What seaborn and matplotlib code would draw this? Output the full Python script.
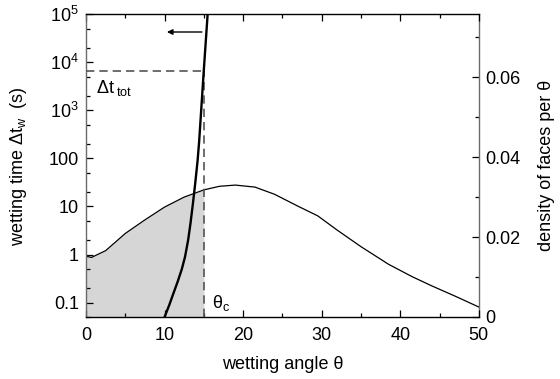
import numpy as np
import pandas as pd
import matplotlib
matplotlib.use("Agg")
import matplotlib.pyplot as plt
import matplotlib.ticker as mticker
import seaborn as sns

# ---- data ----
theta_density = [0, 0.7, 2.5, 5, 7.5, 10, 12.5, 15, 17, 19, 21.5, 24, 27, 29.5, 32,
                 35, 38.5, 41.5, 44, 47, 50]
density = [0.0152, 0.0149, 0.0166, 0.0209, 0.0243, 0.0275, 0.0300, 0.0318, 0.0327,
           0.0330, 0.0325, 0.0307, 0.0277, 0.0253, 0.0217, 0.0176, 0.0132, 0.0101,
           0.0078, 0.0052, 0.0025]

theta_wet = [10.0, 10.6, 11.1, 11.7, 12.2, 12.6, 13.0, 13.3, 13.6, 13.9, 14.2, 14.4,
             14.6, 14.8, 15.0, 15.25, 15.5]
t_wet = [0.050, 0.089, 0.151, 0.282, 0.50, 0.89, 2.0, 4.47, 11.2, 30.2, 89, 224,
         708, 2240, 7080, 2.82e4, 1.12e5]

theta_c = 15.0
dt_tot = 6500

x_ticks = [0, 10, 20, 30, 40, 50]
y_left_ticks = [0.1, 1, 10, 100, 1e3, 1e4, 1e5]
y_left_labels = ["0.1", "1", "10", "100", "$10^3$", "$10^4$", "$10^5$"]
y_right_ticks = [0, 0.02, 0.04, 0.06]
y_right_labels = ["0", "0.02", "0.04", "0.06"]

sns.set_style("ticks")
plt.rcParams["font.family"] = ["Liberation Sans", "DejaVu Sans"]
plt.rcParams["mathtext.fontset"] = "custom"
plt.rcParams["mathtext.rm"] = "Liberation Sans"
plt.rcParams["mathtext.it"] = "Liberation Sans:italic"
plt.rcParams["mathtext.bf"] = "Liberation Sans:bold"
for key in ["text.color", "axes.labelcolor", "xtick.color", "ytick.color"]:
    plt.rcParams[key] = "black"

fig = plt.figure(figsize=(5.6, 3.79), dpi=100)
ax1 = fig.add_axes([0.1536, 0.1636, 0.855 - 0.1536, 0.962 - 0.1636])
ax2 = ax1.twinx()
ax1.set_zorder(2)
ax2.set_zorder(1)
ax1.patch.set_visible(False)

df_d = pd.DataFrame({"theta": theta_density, "density": density})
df_w = pd.DataFrame({"theta": theta_wet, "t": t_wet})

# shaded area under density up to theta_c
sub = df_d[df_d["theta"] <= theta_c]
ax2.fill_between(sub["theta"], 0, sub["density"], color="#d6d6d6", lw=0, zorder=1)
sns.lineplot(data=df_d, x="theta", y="density", ax=ax2, color="black", lw=0.9,
             zorder=3, legend=False)

# wetting time curve
sns.lineplot(data=df_w, x="theta", y="t", ax=ax1, color="black", lw=1.7,
             legend=False, zorder=4)

ax1.set_yscale("log")
ax1.set_xlim(0, 50)
ax1.set_ylim(0.05, 1e5)
ax2.set_ylim(0, 0.0757)

# dashed lines
ax1.plot([0, theta_c], [dt_tot, dt_tot], ls=(0, (5, 3)), color="#555555", lw=1.2, zorder=3)
ax1.plot([theta_c, theta_c], [0.05, dt_tot], ls=(0, (5, 3)), color="#555555", lw=1.2, zorder=3)

# arrow
ax1.annotate("", xy=(10.3, 4.3e4), xytext=(14.75, 4.3e4),
             arrowprops=dict(arrowstyle="-|>", color="black", lw=1.0,
                             mutation_scale=8, shrinkA=0, shrinkB=0))

# texts
ax1.text(1.3, 3000, r"$\Delta$t$_{\;\mathrm{tot}}$", fontsize=13, va="center", ha="left")
ax1.text(16.0, 0.1, r"θ$_\mathrm{c}$", fontsize=13, va="center", ha="left")

# ticks
ax1.set_xticks(x_ticks)
ax1.xaxis.set_minor_locator(mticker.MultipleLocator(5))
ax1.set_yticks(y_left_ticks)
ax1.set_yticklabels(y_left_labels)
ax1.yaxis.set_minor_locator(mticker.LogLocator(base=10, subs=(2.0, 5.0), numticks=20))
ax1.yaxis.set_minor_formatter(mticker.NullFormatter())
ax2.set_yticks(y_right_ticks)
ax2.set_yticklabels(y_right_labels)
ax2.yaxis.set_minor_locator(mticker.MultipleLocator(0.01))

ax1.tick_params(axis="y", which="major", direction="in", length=5, width=0.9,
                labelsize=13, right=False, pad=5, colors="black")
ax1.tick_params(axis="x", which="major", direction="in", length=5, width=0.9,
                labelsize=13, top=True, pad=7, colors="black")
ax1.tick_params(axis="both", which="minor", direction="in", length=3, width=0.9,
                top=True, right=False, colors="black")
ax2.tick_params(axis="y", which="major", direction="in", length=5, width=0.9,
                labelsize=13, pad=5, colors="black")
ax2.tick_params(axis="y", which="minor", direction="in", length=3, width=0.9,
                colors="black")

for s in ["top", "bottom"]:
    ax1.spines[s].set_color("black")
    ax1.spines[s].set_linewidth(1.0)
ax1.spines["left"].set_color("#6a6a6a")
ax1.spines["left"].set_linewidth(1.0)
ax1.spines["right"].set_visible(False)
for s in ["top", "bottom", "left"]:
    ax2.spines[s].set_visible(False)
ax2.spines["right"].set_color("#6a6a6a")
ax2.spines["right"].set_linewidth(1.0)

ax1.set_xlabel("wetting angle θ", fontsize=13, labelpad=9, color="black")
ax1.set_ylabel(r"wetting time $\Delta$t$_\mathrm{w}$  (s)", fontsize=13, labelpad=14,
               color="black")
ax2.set_ylabel("density of faces per θ", fontsize=13, labelpad=12, color="black")

fig.savefig("out.png", dpi=100)
